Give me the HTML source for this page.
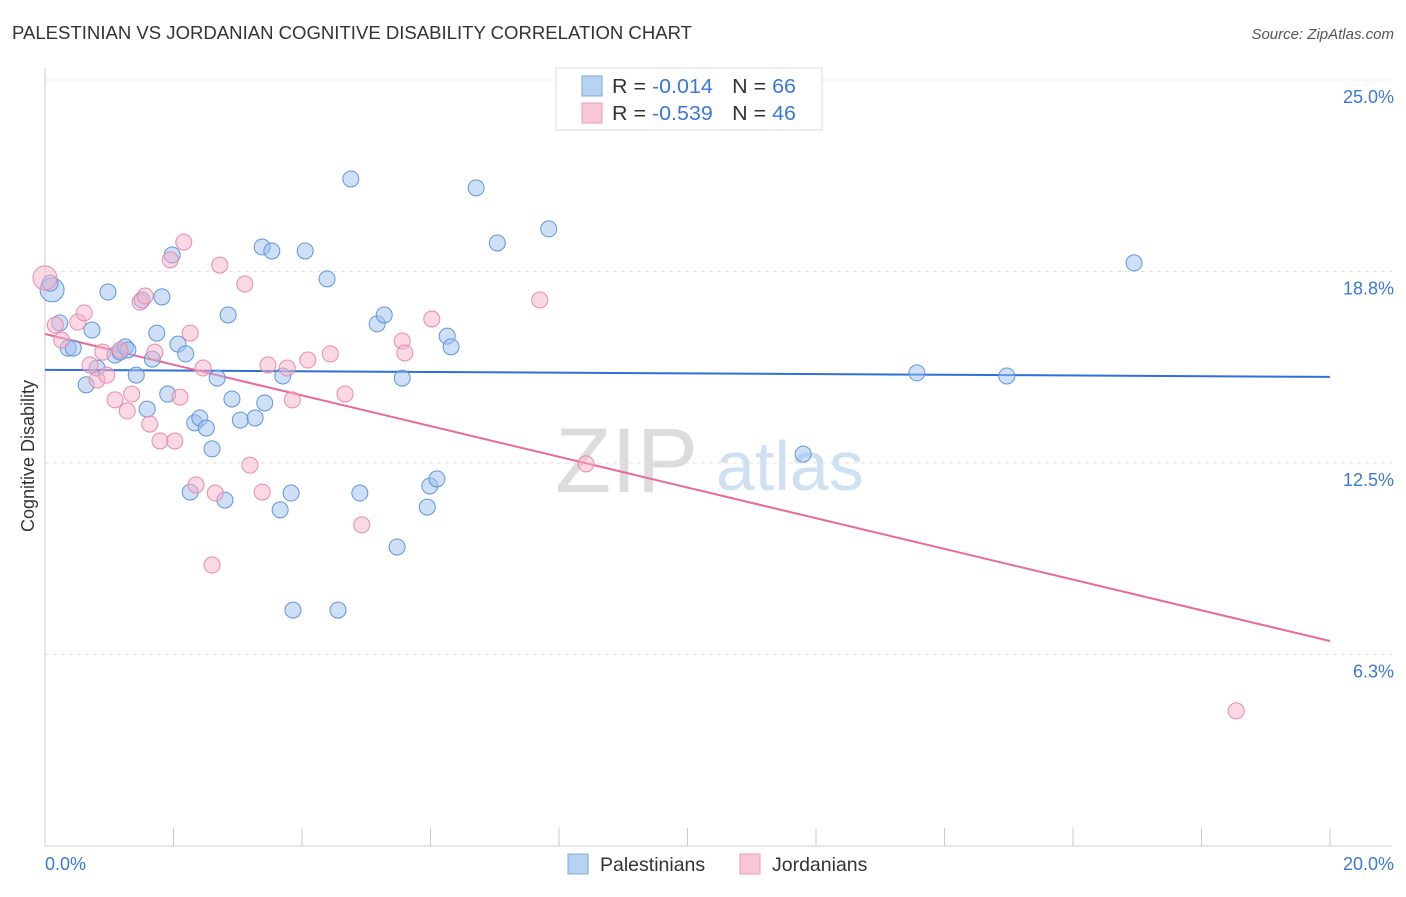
<!DOCTYPE html>
<html><head><meta charset="utf-8"><style>
body{margin:0;background:#fff;font-family:"Liberation Sans",sans-serif;}
svg text{font-family:"Liberation Sans",sans-serif;}
</style></head><body>
<svg id="chart" width="1406" height="892" xmlns="http://www.w3.org/2000/svg">
<text x="12" y="39" font-size="18" fill="#333" textLength="680" lengthAdjust="spacingAndGlyphs">PALESTINIAN VS JORDANIAN COGNITIVE DISABILITY CORRELATION CHART</text>
<text x="1394" y="39" font-size="15" fill="#555" font-style="italic" text-anchor="end">Source: ZipAtlas.com</text>
<g>
<text x="555" y="492" font-size="92" fill="#dcdcdc" font-family="Liberation Serif">ZIP</text>
<text x="716" y="490" font-size="70" fill="#cfe0f3">atlas</text>
</g>
<g id="grid"></g>
<g id="axes"></g>
<g id="trend"></g>
<g id="pts"></g>
<text transform="translate(34,456) rotate(-90)" font-size="18" fill="#333" text-anchor="middle">Cognitive Disability</text>
<text x="45" y="870" font-size="18" fill="#3b78d8">0.0%</text>
<text x="1394" y="870" font-size="18" fill="#3b78d8" text-anchor="end">20.0%</text>
<g>
<rect x="556" y="68" width="266" height="62" fill="#fff" stroke="#ddd"/>
<rect x="582" y="76" width="20" height="20" fill="#b8d2f4" stroke="#7aa8e6"/>
<rect x="582" y="103" width="20" height="20" fill="#f9c6d6" stroke="#ee9ab7"/>
<text x="612" y="93" font-size="20" fill="#333" textLength="184" lengthAdjust="spacingAndGlyphs">R = <tspan fill="#3b78d8">-0.014</tspan><tspan dx="18">N = </tspan><tspan fill="#3b78d8">66</tspan></text>
<text x="612" y="120" font-size="20" fill="#333" textLength="184" lengthAdjust="spacingAndGlyphs">R = <tspan fill="#3b78d8">-0.539</tspan><tspan dx="18">N = </tspan><tspan fill="#3b78d8">46</tspan></text>
</g>
<g>
<rect x="568" y="854" width="20" height="20" fill="#b8d2f4" stroke="#7aa8e6"/>
<text x="600" y="871" font-size="19.5" fill="#333">Palestinians</text>
<rect x="740" y="854" width="20" height="20" fill="#f9c6d6" stroke="#ee9ab7"/>
<text x="772" y="871" font-size="19.5" fill="#333">Jordanians</text>
</g>
</svg>
<script>
const yTicks=[25.0,18.75,12.5,6.25];
const yTickLabels=["25.0%","18.8%","12.5%","6.3%"];
const xTicks=[0,2,4,6,8,10,12,14,16,18,20];
const blueX=[0.11,0.08,0.23,0.36,0.44,0.64,0.73,0.81,0.98,1.09,1.17,1.25,1.29,1.42,1.51,1.59,1.67,1.74,1.82,1.91,1.98,2.07,2.19,2.26,2.33,2.41,2.51,2.60,2.68,2.80,2.85,2.91,3.04,3.27,3.38,3.42,3.53,3.66,3.70,3.83,3.86,4.05,4.39,4.56,4.76,4.90,5.17,5.28,5.48,5.56,5.95,5.99,6.10,6.26,6.32,6.71,7.04,7.84,11.80,13.57,14.97,16.95];
const blueY=[18.15,18.37,17.07,16.25,16.25,15.05,16.84,15.60,18.08,16.02,16.12,16.29,16.19,15.37,17.82,14.26,15.89,16.74,17.92,14.75,19.29,16.38,16.06,11.55,13.81,13.97,13.64,12.96,15.27,11.29,17.33,14.59,13.90,13.97,19.55,14.46,19.42,10.97,15.34,11.52,7.70,19.42,18.51,7.70,21.77,11.52,17.04,17.33,9.76,15.27,11.06,11.75,11.98,16.64,16.29,21.48,19.68,20.14,12.79,15.44,15.34,19.03];
const pinkX=[0,0.16,0.26,0.51,0.61,0.70,0.81,0.90,0.96,1.09,1.17,1.28,1.35,1.48,1.56,1.63,1.71,1.79,1.95,2.02,2.10,2.16,2.26,2.35,2.46,2.60,2.65,2.72,3.11,3.19,3.38,3.47,3.77,3.85,4.09,4.44,4.67,4.93,5.56,5.60,6.02,7.70,8.42,18.54];
const pinkY=[18.54,17.00,16.51,17.10,17.40,15.70,15.21,16.12,15.37,14.56,16.19,14.20,14.75,17.75,17.95,13.77,16.12,13.22,19.13,13.22,14.65,19.71,16.74,11.78,15.60,9.17,11.52,18.96,18.34,12.43,11.55,15.70,15.60,14.56,15.86,16.06,14.75,10.48,16.48,16.09,17.20,17.82,12.47,4.41];
const blueTrend=[15.54,15.31];
const pinkTrend=[16.71,6.69];
const NS="http://www.w3.org/2000/svg";
const X=v=>45+v/20*1285, Y=v=>846-v/25*766;
function mk(t,a,p){const e=document.createElementNS(NS,t);for(const k in a)e.setAttribute(k,a[k]);p.appendChild(e);return e;}
const grid=document.getElementById('grid'),axes=document.getElementById('axes'),trend=document.getElementById('trend'),pts=document.getElementById('pts');
yTicks.forEach((t,i)=>{
 const l=mk('line',{x1:45,x2:1392,y1:Y(t),y2:Y(t),stroke:'#e2e2e2','stroke-dasharray':'4,4'},grid);
 
 
 const tx=mk('text',{x:1394,y:Y(t)+23,'font-size':18,fill:'#3b78d8','text-anchor':'end'},grid);
 tx.textContent=yTickLabels[i];
 
 
});
mk('line',{x1:45,x2:45,y1:68,y2:846,stroke:'#ccc'},axes);
mk('line',{x1:45,x2:1392,y1:846,y2:846,stroke:'#ccc'},axes);
xTicks.forEach(t=>{
 const l=mk('line',{x1:X(t),x2:X(t),y1:828,y2:846,stroke:'#ccc'},axes);
 
 
});
function dots(xs,ys,fill,stroke,name){xs.forEach((x,i)=>{
 const r=i===0&&x<0.15?12:8;
 const c=mk('circle',{cx:X(x),cy:Y(ys[i]),r:r,fill:fill,'fill-opacity':0.5,stroke:stroke,'stroke-width':1},pts);
 
 
});}
dots(blueX,blueY,'#9ec0ee','#5f95dd','palestinian-point');
dots(pinkX,pinkY,'#f6b3c9','#e98aab','jordanian-point');
const bl=mk('line',{x1:X(0),x2:X(20),y1:Y(blueTrend[0]),y2:Y(blueTrend[1]),stroke:'#2f6fd6','stroke-width':2},trend);


const pl=mk('line',{x1:X(0),x2:X(20),y1:Y(pinkTrend[0]),y2:Y(pinkTrend[1]),stroke:'#e8699a','stroke-width':2},trend);


</script>
</body></html>
